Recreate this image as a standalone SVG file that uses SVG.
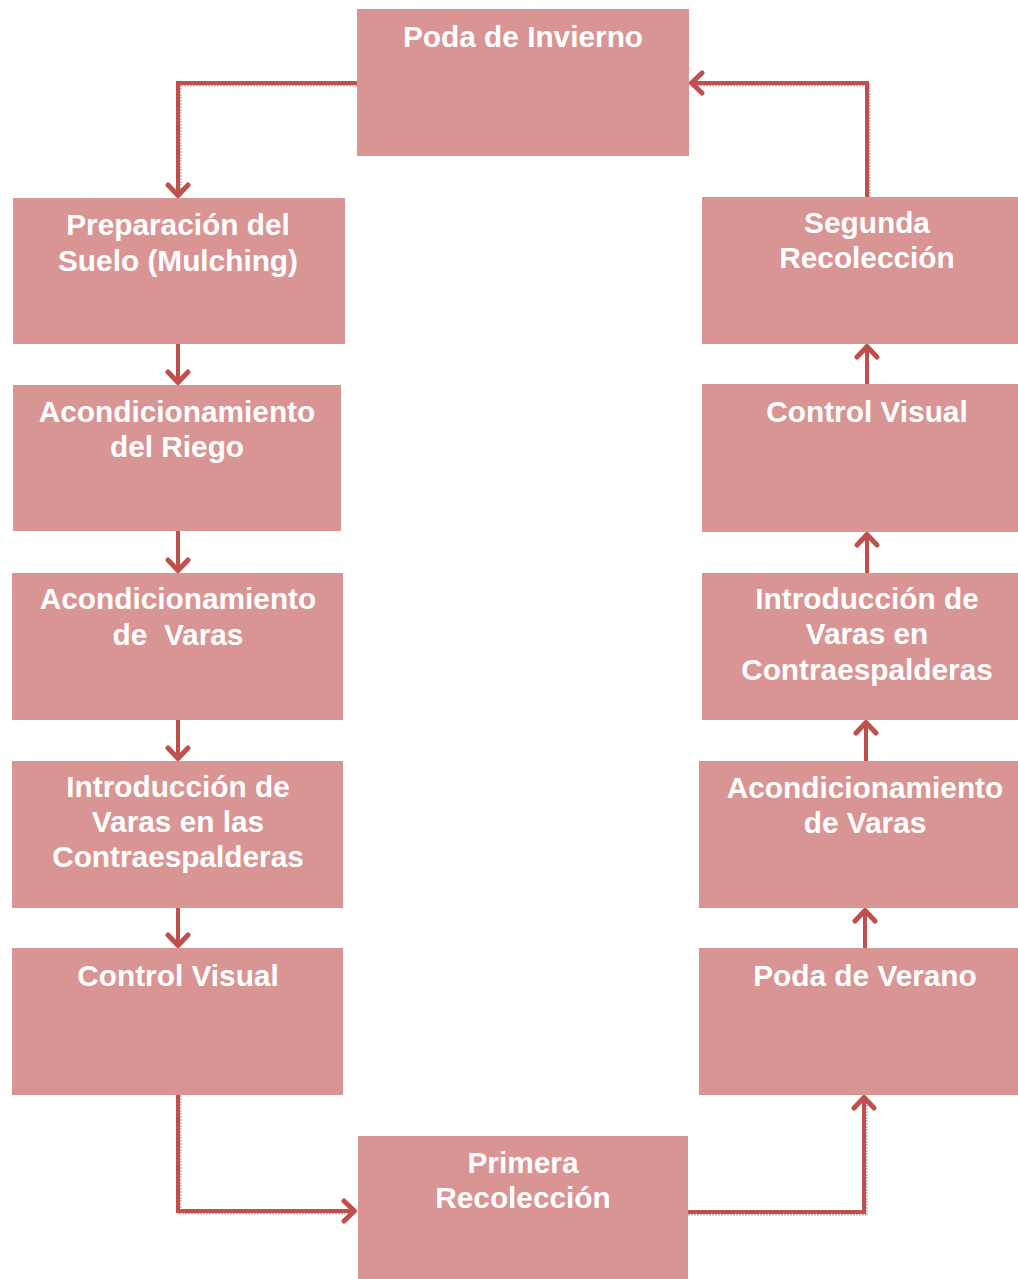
<svg xmlns="http://www.w3.org/2000/svg" width="1018" height="1279" viewBox="0 0 1018 1279">
<style>
.box{fill:#D99594;}
.lbl{font-family:"Liberation Sans",Arial,sans-serif;font-weight:bold;font-size:29.8px;fill:#FFFFFF;text-anchor:middle;}
.con{fill:none;stroke:#C0504D;stroke-width:4;stroke-linejoin:miter;marker-end:url(#arr);}
.sh{fill:none;stroke:#7F7F7F;stroke-width:3;stroke-opacity:0.55;stroke-dasharray:2 1;}
</style>
<defs>
<marker id="arr" markerUnits="userSpaceOnUse" viewBox="-15 -13 18 26" markerWidth="18" markerHeight="26" refX="0" refY="0" orient="auto">
<path d="M-12,-10 L-1.5,0 L-12,10" fill="none" stroke="#C0504D" stroke-width="5" stroke-linecap="round" stroke-linejoin="round"/>
</marker>
</defs>
<rect width="1018" height="1279" fill="#FFFFFF"/>
<g id="connectors">
<g id="shadows">
<path class="sh" d="M357,85 H180 V196"/>
<path class="sh" d="M869,197 V85 H691"/>
<path class="sh" d="M180,1095 V1213 H356"/>
<path class="sh" d="M688,1214 H866 V1097"/>
</g>
<path class="con" d="M357,83 H178 V197"/>
<path class="con" d="M867,197 V83 H690"/>
<path class="con" d="M178,1095 V1211 H356"/>
<path class="con" d="M688,1212 H864 V1096"/>
<path class="con" d="M178,344 V384"/>
<path class="con" d="M178,531 V572"/>
<path class="con" d="M178,720 V760"/>
<path class="con" d="M178,908 V947"/>
<path class="con" d="M867,384 V345"/>
<path class="con" d="M867,573 V533"/>
<path class="con" d="M866,761 V721"/>
<path class="con" d="M865,948 V909"/>
</g>
<g id="poda-invierno"><rect class="box" x="357" y="9" width="332" height="147"/><text class="lbl" x="523" y="47">Poda de Invierno</text></g>
<g id="preparacion-suelo"><rect class="box" x="13" y="198" width="332" height="146"/><text class="lbl" x="178" y="235">Preparación del</text><text class="lbl" x="178" y="271">Suelo (Mulching)</text></g>
<g id="acond-riego"><rect class="box" x="13" y="385" width="328" height="146"/><text class="lbl" x="177" y="422">Acondicionamiento</text><text class="lbl" x="177" y="457">del Riego</text></g>
<g id="acond-varas-1"><rect class="box" x="12" y="573" width="331" height="147"/><text class="lbl" x="178" y="609">Acondicionamiento</text><text class="lbl" x="178" y="645" xml:space="preserve">de  Varas</text></g>
<g id="introduccion-1"><rect class="box" x="12" y="761" width="331" height="147"/><text class="lbl" x="178" y="797">Introducción de</text><text class="lbl" x="178" y="832">Varas en las</text><text class="lbl" x="178" y="867">Contraespalderas</text></g>
<g id="control-visual-1"><rect class="box" x="12" y="948" width="331" height="147"/><text class="lbl" x="178" y="986">Control Visual</text></g>
<g id="primera-recoleccion"><rect class="box" x="358" y="1136" width="330" height="143"/><text class="lbl" x="523" y="1173">Primera</text><text class="lbl" x="523" y="1208">Recolección</text></g>
<g id="poda-verano"><rect class="box" x="699" y="948" width="319" height="147"/><text class="lbl" x="865" y="986">Poda de Verano</text></g>
<g id="acond-varas-2"><rect class="box" x="699" y="761" width="319" height="147"/><text class="lbl" x="865" y="798">Acondicionamiento</text><text class="lbl" x="865" y="833">de Varas</text></g>
<g id="introduccion-2"><rect class="box" x="702" y="573" width="316" height="147"/><text class="lbl" x="867" y="609">Introducción de</text><text class="lbl" x="867" y="644">Varas en</text><text class="lbl" x="867" y="680">Contraespalderas</text></g>
<g id="control-visual-2"><rect class="box" x="702" y="384" width="316" height="148"/><text class="lbl" x="867" y="422">Control Visual</text></g>
<g id="segunda-recoleccion"><rect class="box" x="702" y="197" width="316" height="147"/><text class="lbl" x="867" y="233">Segunda</text><text class="lbl" x="867" y="268">Recolección</text></g>
</svg>
